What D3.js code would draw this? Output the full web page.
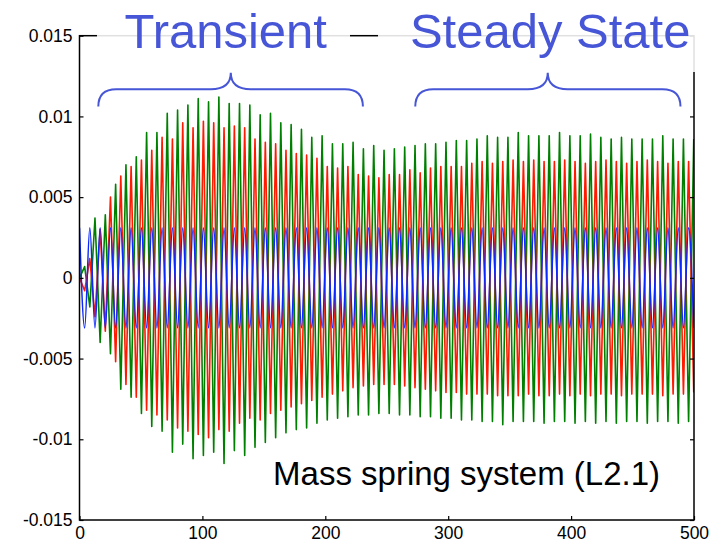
<!DOCTYPE html>
<html><head><meta charset="utf-8">
<script src="https://cdn.jsdelivr.net/npm/d3@7"></script>
<style>body{margin:0;background:#fff}svg{display:block}</style>
</head><body><svg id="c" width="715" height="543"></svg>
<script>
// Times of the successive extrema (peaks / troughs)
const extremaTimes = [
0,4.2,8.4,12.6,16.8,21,25.2,29.4,33.6,37.8,
42,46.2,50.4,54.6,58.8,63,67.2,71.4,75.6,79.8,
84,88.2,92.4,96.6,100.8,105,109.2,113.4,117.6,121.8,
126,130.2,134.4,138.6,142.8,147,151.2,155.4,159.6,163.8,
168,172.2,176.4,180.6,184.8,189,193.2,197.4,201.6,205.8,
210,214.2,218.4,222.6,226.8,231,235.2,239.4,243.6,247.8,
252,256.2,260.4,264.6,268.8,273,277.2,281.4,285.6,289.8,
294,298.2,302.4,306.6,310.8,315,319.2,323.4,327.6,331.8,
336,340.2,344.4,348.6,352.8,357,361.2,365.4,369.6,373.8,
378,382.2,386.4,390.6,394.8,399,403.2,407.4,411.6,415.8,
420,424.2,428.4,432.6,436.8,441,445.2,449.4,453.6,457.8,
462,466.2,470.4,474.6,478.8,483,487.2,491.4,495.6,499.8];

// Blue series values at those extrema
const blueValues = [
0.0031,-0.0031,0.0031,-0.0031,0.0031,-0.0031,0.0031,-0.0031,0.0031,-0.0031,
0.0031,-0.0031,0.0031,-0.0031,0.0031,-0.0031,0.0031,-0.0031,0.0031,-0.0031,
0.0031,-0.0031,0.0031,-0.0031,0.0031,-0.0031,0.0031,-0.0031,0.0031,-0.0031,
0.0031,-0.0031,0.0031,-0.0031,0.0031,-0.0031,0.0031,-0.0031,0.0031,-0.0031,
0.0031,-0.0031,0.0031,-0.0031,0.0031,-0.0031,0.0031,-0.0031,0.0031,-0.0031,
0.0031,-0.0031,0.0031,-0.0031,0.0031,-0.0031,0.0031,-0.0031,0.0031,-0.0031,
0.0031,-0.0031,0.0031,-0.0031,0.0031,-0.0031,0.0031,-0.0031,0.0031,-0.0031,
0.0031,-0.0031,0.0031,-0.0031,0.0031,-0.0031,0.0031,-0.0031,0.0031,-0.0031,
0.0031,-0.0031,0.0031,-0.0031,0.0031,-0.0031,0.0031,-0.0031,0.0031,-0.0031,
0.0031,-0.0031,0.0031,-0.0031,0.0031,-0.0031,0.0031,-0.0031,0.0031,-0.0031,
0.0031,-0.0031,0.0031,-0.0031,0.0031,-0.0031,0.0031,-0.0031,0.0031,-0.0031,
0.0031,-0.0031,0.0031,-0.0031,0.0031,-0.0031,0.0031,-0.0031,0.0031,-0.0031];

// Green series values at those extrema
const greenValues = [
0,0.0007,-0.0018,0.0037,-0.0040,0.0039,-0.0047,0.0058,-0.0069,0.0070,
-0.0074,0.0075,-0.0084,0.0090,-0.0092,0.0090,-0.0095,0.0102,-0.0108,0.0104,
-0.0103,0.0107,-0.0112,0.0111,-0.0110,0.0109,-0.0108,0.0112,-0.0115,0.0108,
-0.0107,0.0108,-0.0110,0.0107,-0.0105,0.0101,-0.0102,0.0102,-0.0099,0.0096,
-0.0096,0.0095,-0.0094,0.0092,-0.0093,0.0087,-0.0090,0.0088,-0.0088,0.0083,
-0.0087,0.0083,-0.0086,0.0084,-0.0085,0.0080,-0.0085,0.0082,-0.0084,0.0079,
-0.0084,0.0080,-0.0085,0.0081,-0.0085,0.0082,-0.0086,0.0083,-0.0086,0.0083,
-0.0087,0.0084,-0.0087,0.0085,-0.0088,0.0085,-0.0088,0.0086,-0.0089,0.0088,
-0.0089,0.0087,-0.0091,0.0087,-0.0089,0.0090,-0.0089,0.0088,-0.0089,0.0088,
-0.0090,0.0088,-0.0089,0.0090,-0.0089,0.0088,-0.0090,0.0088,-0.0089,0.0089,
-0.0090,0.0087,-0.0089,0.0086,-0.0090,0.0087,-0.0089,0.0086,-0.0089,0.0086,
-0.0090,0.0086,-0.0089,0.0088,-0.0089,0.0086,-0.0090,0.0086,-0.0089,0.0086];

// Red series values at those extrema
const redValues = [
0,-0.0008,0.0012,-0.0024,0.0030,-0.0033,0.0050,-0.0052,0.0063,-0.0066,
0.0069,-0.0074,0.0073,-0.0082,0.0079,-0.0085,0.0087,-0.0088,0.0086,-0.0093,
0.0096,-0.0095,0.0093,-0.0097,0.0097,-0.0099,0.0096,-0.0094,0.0093,-0.0095,
0.0094,-0.0090,0.0093,-0.0087,0.0086,-0.0088,0.0084,-0.0084,0.0083,-0.0082,
0.0079,-0.0080,0.0077,-0.0078,0.0076,-0.0076,0.0074,-0.0074,0.0069,-0.0072,
0.0068,-0.0070,0.0069,-0.0068,0.0064,-0.0067,0.0063,-0.0066,0.0062,-0.0066,
0.0064,-0.0066,0.0064,-0.0067,0.0067,-0.0068,0.0065,-0.0069,0.0068,-0.0070,
0.0069,-0.0071,0.0069,-0.0071,0.0069,-0.0072,0.0071,-0.0072,0.0072,-0.0072,
0.0071,-0.0073,0.0072,-0.0073,0.0073,-0.0073,0.0072,-0.0072,0.0073,-0.0073,
0.0072,-0.0073,0.0072,-0.0072,0.0073,-0.0073,0.0072,-0.0072,0.0071,-0.0073,
0.0072,-0.0072,0.0073,-0.0072,0.0072,-0.0073,0.0071,-0.0072,0.0072,-0.0072,
0.0073,-0.0072,0.0072,-0.0073,0.0071,-0.0072,0.0072,-0.0072,0.0072,-0.0071];

const xTicks = [0,100,200,300,400,500];
const xTickLabels = ["0","100","200","300","400","500"];
const yTicks = [-0.015,-0.01,-0.005,0,0.005,0.01,0.015];
const yTickLabels = ["-0.015","-0.01","-0.005","0","0.005","0.01","0.015"];
const phaseLabels = ["Transient","Steady State"];
const caption = "Mass spring system (L2.1)";

// ---- layout ----
const L = 79.5, R = 694, T = 35.7, B = 520;
const svg = d3.select("#c");
const x = d3.scaleLinear().domain([0,500]).range([L,R]);
const y = d3.scaleLinear().domain([-0.015,0.015]).range([B,T]);
const FONT = "'Liberation Sans', Arial, Helvetica, sans-serif";
const ACCENT = "#4656d6";

// data lines (drawing order: green, red, blue on top)
const series = [
  {vals: greenValues, color: "#008000", curve: d3.curveLinear, w: 1.6},
  {vals: redValues, color: "#ff1a00", curve: d3.curveLinear, w: 1.6},
  {vals: blueValues, color: "#0a28ff", curve: d3.curveMonotoneX, w: 1.5}
];
svg.append("clipPath").attr("id","pc").append("rect")
  .attr("x",L).attr("y",T).attr("width",R-L).attr("height",B-T);
const gl = svg.append("g").attr("clip-path","url(#pc)");
series.forEach(s=>{
  const gen = d3.line().x((d,i)=>x(extremaTimes[i])).y(d=>y(d)).curve(s.curve);
  gl.append("path").attr("d",gen(s.vals)).attr("fill","none")
    .attr("stroke",s.color).attr("stroke-width",s.w).attr("stroke-linejoin","round");
});

// frame
svg.append("rect").attr("x",L).attr("y",T).attr("width",R-L).attr("height",B-T)
  .attr("fill","none").attr("stroke","#000").attr("stroke-width",1.5);

// axes
const ax = d3.axisBottom(x).tickValues(xTicks).tickFormat((d,i)=>xTickLabels[i])
  .tickSizeInner(-4).tickSizeOuter(0).tickPadding(7);
const gx = svg.append("g").attr("transform",`translate(0,${B})`).call(ax);
const ay = d3.axisLeft(y).tickValues(yTicks).tickFormat((d,i)=>yTickLabels[i])
  .tickSizeInner(-4).tickSizeOuter(0).tickPadding(7);
const gy = svg.append("g").attr("transform",`translate(${L},0)`).call(ay);
const ay2 = d3.axisRight(y).tickValues(yTicks).tickFormat("").tickSizeInner(-4).tickSizeOuter(0);
const gy2 = svg.append("g").attr("transform",`translate(${R},0)`).call(ay2);
[gx,gy,gy2].forEach(g=>{
  g.select(".domain").remove();
  g.selectAll("line").attr("stroke","#000").attr("stroke-width",1.2);
  g.selectAll("text").attr("fill","#000").style("font-family",FONT).style("font-size","17.5px");
});

// translucent boxes behind the phase titles
svg.append("rect").attr("x",97).attr("y",0).attr("width",253).attr("height",66)
  .attr("fill","#fff").attr("fill-opacity",0.88);
svg.append("rect").attr("x",378).attr("y",0).attr("width",337).attr("height",72)
  .attr("fill","#fff").attr("fill-opacity",0.88);

// phase titles
const titleX = [119, 383];
phaseLabels.forEach((t,i)=>{
  svg.append("text").attr("x",x(titleX[i])).attr("y",48).attr("text-anchor","middle")
    .style("font-family",FONT).style("font-size","49px").attr("fill",ACCENT).text(t);
});

// braces (in data coordinates)
const braces = [[15.3,123.1,230.6],[273.2,381,489]];
const yEnd = y(0.01061), yMid = y(0.01169), yTip = y(0.01271);
braces.forEach(b=>{
  const x0 = x(b[0]), xc = x(b[1]), x1 = x(b[2]), r = 18, rc = 20;
  const p = `M${x0},${yEnd} Q${x0},${yMid} ${x0+r},${yMid} L${xc-rc},${yMid} Q${xc},${yMid} ${xc},${yTip}`+
            ` Q${xc},${yMid} ${xc+rc},${yMid} L${x1-r},${yMid} Q${x1},${yMid} ${x1},${yEnd}`;
  svg.append("path").attr("d",p).attr("fill","none").attr("stroke",ACCENT).attr("stroke-width",2);
});

// caption
svg.append("text").attr("x",660).attr("y",485).attr("text-anchor","end")
  .style("font-family",FONT).style("font-size","33px").attr("fill","#000").text(caption);
</script></body></html>
